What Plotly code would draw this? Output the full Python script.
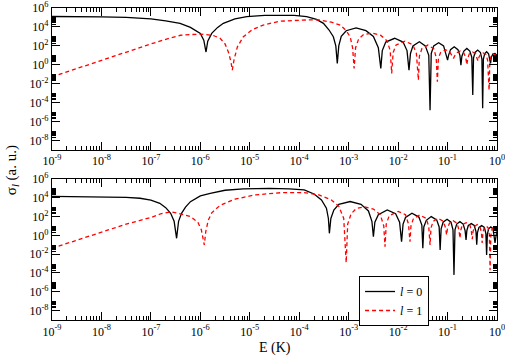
import plotly.graph_objects as go

# ---------------- data (log10 E in K, log10 sigma in a.u.) ----------------
top_l0_logE = [-9, -8.5, -8, -7.5, -7, -6.7, -6.41, -6.2, -6.0, -5.93, -5.885, -5.85, -5.77, -5.65, -5.535, -5.3, -5.06, -4.7, -4.39, -4.1, -3.85, -3.65, -3.51, -3.4, -3.31, -3.26, -3.23,
               -3.2, -3.15, -3.05, -2.85, -2.65, -2.5, -2.4, -2.35,
               -2.32, -2.25, -2.07, -1.9, -1.82, -1.78,
               -1.75, -1.7, -1.57, -1.45, -1.38, -1.354,
               -1.33, -1.28, -1.18, -1.08, -1.02, -1.0,
               -0.98, -0.94, -0.865, -0.79, -0.75, -0.73,
               -0.71, -0.67, -0.61, -0.55, -0.51, -0.49,
               -0.475, -0.445, -0.39, -0.335, -0.305, -0.29,
               -0.275, -0.25, -0.21, -0.17, -0.145, -0.13,
               -0.115, -0.08, -0.04, 0]
top_l0_logS = [5.1, 5.1, 5.07, 5.0, 4.85, 4.65, 4.38, 3.95, 3.32, 2.6, 1.35, 2.5, 3.32, 3.95, 4.38, 4.85, 5.08, 5.22, 5.26, 5.22, 5.08, 4.8, 4.38, 3.7, 2.96, 2.0, 0.15,
               2.0, 3.0, 3.6, 3.9, 3.6, 3.0, 1.8, -0.38,
               1.5, 2.4, 2.8, 2.4, 1.5, -0.56,
               1.2, 2.0, 2.43, 2.0, 1.0, -4.8,
               1.2, 2.0, 2.33, 2.0, 1.0, 0.5,
               1.0, 1.6, 1.9, 1.6, 1.0, -0.03,
               0.9, 1.45, 1.73, 1.45, 0.8, -3.2,
               0.7, 1.3, 1.55, 1.3, 0.6, -4.6,
               0.6, 1.15, 1.38, 1.15, 0.5, 0.15,
               0.8, 1.15, 1.2, 1.0]

top_l1_logE = [-9, -8.5, -8, -7.5, -7, -6.6, -6.4, -6.0, -5.75, -5.6, -5.5, -5.43, -5.38, -5.353, -5.32, -5.25, -5.13, -4.95, -4.73, -4.4, -4.05, -3.8, -3.58, -3.35, -3.17, -3.05, -2.97, -2.92, -2.89,
               -2.86, -2.8, -2.7, -2.52, -2.35, -2.22, -2.16, -2.13,
               -2.1, -2.04, -1.86, -1.7, -1.63, -1.59,
               -1.57, -1.52, -1.4, -1.28, -1.23, -1.206,
               -1.185, -1.14, -1.04, -0.95, -0.9, -0.88,
               -0.86, -0.82, -0.745, -0.67, -0.63, -0.61,
               -0.59, -0.56, -0.495, -0.43, -0.4, -0.38,
               -0.365, -0.335, -0.28, -0.225, -0.19, -0.16,
               -0.145, -0.12, -0.07, -0.02, 0]
top_l1_logS = [-1.27, -0.4, 0.5, 1.35, 2.2, 2.85, 3.12, 3.25, 3.12, 2.8, 2.2, 1.3, 0.3, -0.56, 0.5, 1.9, 2.96, 3.7, 4.2, 4.6, 4.73, 4.75, 4.73, 4.5, 4.2, 3.6, 2.96, 1.8, -0.38,
               1.8, 2.7, 3.2, 3.35, 3.1, 2.5, 1.5, -0.91,
               1.3, 2.1, 2.5, 2.1, 1.2, -1.62,
               0.9, 1.7, 2.08, 1.7, 0.8, -1.8,
               0.7, 1.3, 1.6, 1.3, 0.9, 0.68,
               0.9, 1.25, 1.45, 1.25, 0.7, 0.0,
               0.7, 1.15, 1.35, 1.15, 0.6, 0.4,
               0.8, 1.1, 1.25, 1.1, 0.5, -2.7,
               0.3, 0.95, 1.15, 0.9, 0.5]

bot_l0_logE = [-9, -8.5, -8, -7.5, -7.22, -7.0, -6.82, -6.7, -6.6, -6.53, -6.48, -6.44, -6.38, -6.3, -6.2, -6.0, -5.8, -5.5, -5.13, -4.6, -4.2, -3.9, -3.7, -3.55, -3.45, -3.41, -3.39,
               -3.36, -3.3, -3.2, -2.97, -2.75, -2.6, -2.53, -2.5,
               -2.47, -2.4, -2.22, -2.05, -1.97, -1.93,
               -1.9, -1.85, -1.72, -1.58, -1.52, -1.5,
               -1.48, -1.43, -1.33, -1.22, -1.17, -1.15,
               -1.13, -1.09, -1.01, -0.93, -0.89, -0.87,
               -0.85, -0.815, -0.75, -0.685, -0.645, -0.626,
               -0.61, -0.58, -0.52, -0.46, -0.425, -0.41,
               -0.395, -0.365, -0.31, -0.255, -0.225, -0.21,
               -0.195, -0.17, -0.125, -0.08, -0.055, -0.04,
               0]
bot_l0_logS = [4.15, 4.14, 4.12, 4.05, 3.95, 3.75, 3.41, 2.95, 2.35, 1.5, -0.31, 1.5, 2.35, 3.0, 3.59, 4.2, 4.48, 4.8, 4.94, 5.0, 4.95, 4.83, 4.4, 3.77, 2.9, 1.8, 0.22,
               1.8, 2.7, 3.3, 3.6, 3.3, 2.6, 1.5, -0.14,
               1.4, 2.2, 2.7, 2.3, 1.4, -0.67,
               1.2, 1.9, 2.35, 1.95, 1.1, -1.37,
               0.9, 1.6, 2.0, 1.65, 0.9, -1.55,
               0.7, 1.4, 1.72, 1.4, 0.6, -4.2,
               0.6, 1.2, 1.46, 1.2, 0.5, -0.49,
               0.5, 1.05, 1.25, 1.05, 0.4, -1.0,
               0.3, 0.85, 1.05, 0.85, 0.2, -2.09,
               0.1, 0.7, 0.9, 0.7, 0.0, -0.8,
               0.6]

bot_l1_logE = [-9, -8.5, -8, -7.5, -7, -6.8, -6.6, -6.45, -6.2, -6.05, -5.98, -5.92, -5.89, -5.84, -5.77, -5.6, -5.3, -4.9, -4.35, -3.9, -3.6, -3.35, -3.2, -3.1, -3.05,
               -3.02, -2.95, -2.85, -2.68, -2.5, -2.36, -2.29, -2.265,
               -2.24, -2.18, -2.0, -1.85, -1.79, -1.76,
               -1.74, -1.69, -1.56, -1.43, -1.38, -1.354,
               -1.335, -1.29, -1.19, -1.09, -1.04, -1.02,
               -1.0, -0.96, -0.885, -0.81, -0.77, -0.75,
               -0.73, -0.7, -0.625, -0.55, -0.52, -0.5,
               -0.485, -0.455, -0.4, -0.345, -0.315, -0.3,
               -0.285, -0.26, -0.22, -0.18, -0.155, -0.14,
               -0.125, -0.1, -0.06, -0.02, 0]
bot_l1_logS = [-1.37, -0.5, 0.4, 1.2, 1.9, 2.3, 2.5, 2.35, 2.0, 1.4, 0.6, -1.02, 0.4, 1.6, 2.4, 3.2, 3.85, 4.3, 4.55, 4.55, 4.3, 3.77, 3.1, 1.8, -2.9,
               1.2, 2.3, 2.85, 3.05, 2.8, 2.2, 1.0, -1.2,
               1.2, 2.1, 2.55, 2.2, 1.2, -0.67,
               1.0, 1.8, 2.17, 1.8, 0.9, -1.02,
               0.8, 1.5, 1.82, 1.5, 0.8, 0.04,
               0.8, 1.3, 1.55, 1.3, 0.6, -0.3,
               0.6, 1.15, 1.35, 1.15, 0.5, -0.4,
               0.4, 0.95, 1.15, 0.95, 0.3, -0.8,
               0.3, 0.8, 1.0, 0.8, 0.1, -3.7,
               0.0, 0.7, 0.85, 0.6, 0.2]

x_tick_exps = [-9, -8, -7, -6, -5, -4, -3, -2, -1, 0]
y_tick_exps = [-8, -6, -4, -2, 0, 2, 4, 6]
legend_names = ["<i>l</i> = 0", "<i>l</i> = 1"]

# ---------------- figure ----------------
FONT = "Liberation Serif, Times New Roman, serif"
BLACK = "#000000"
RED = "#ff0000"

def lin(v):
    return [10 ** a for a in v]

fig = go.Figure()
series = [
    (top_l0_logE, top_l0_logS, "x", "y", BLACK, "solid", legend_names[0], False),
    (top_l1_logE, top_l1_logS, "x", "y", RED, "4px,3px", legend_names[1], False),
    (bot_l0_logE, bot_l0_logS, "x2", "y2", BLACK, "solid", legend_names[0], True),
    (bot_l1_logE, bot_l1_logS, "x2", "y2", RED, "4px,3px", legend_names[1], True),
]
for xe, ys, xa, ya, col, dash, name, show in series:
    fig.add_trace(go.Scatter(x=lin(xe), y=lin(ys), xaxis=xa, yaxis=ya, mode="lines",
                             line=dict(color=col, width=1.3, dash=dash),
                             name=name, showlegend=show, hoverinfo="skip"))

x_tickvals = [10.0 ** e for e in x_tick_exps]
x_ticktext = ["10<sup>%d</sup>" % e for e in x_tick_exps]
x_minor = [k * 10.0 ** e for e in x_tick_exps[:-1] for k in range(2, 10)]
y_tickvals = [10.0 ** e for e in y_tick_exps]
y_ticktext = ["10<sup>%d</sup>" % e for e in y_tick_exps]
y_minor = [k * 10.0 ** e for e in y_tick_exps[:-1] for k in range(2, 10)]

common = dict(type="log", showline=True, linecolor=BLACK, linewidth=1.2, mirror="allticks",
              ticks="inside", ticklen=8, tickwidth=1, tickcolor=BLACK, showgrid=False, zeroline=False,
              tickfont=dict(family=FONT, size=12, color=BLACK), tickmode="array", automargin=False,
              ticklabeloverflow="allow")
xax = dict(common, range=[-9, 0], tickvals=x_tickvals, ticktext=x_ticktext,
           minor=dict(tickvals=x_minor, ticks="inside", ticklen=4, tickcolor=BLACK, tickwidth=1, showgrid=False))
yax = dict(common, range=[-9, 6], tickvals=y_tickvals, ticktext=y_ticktext,
           minor=dict(tickvals=y_minor, ticks="inside", ticklen=4, tickcolor=BLACK, tickwidth=1, showgrid=False))

fig.update_layout(
    width=505, height=358,
    margin=dict(l=52, r=8, t=8, b=38, autoexpand=False),
    paper_bgcolor="white", plot_bgcolor="white",
    font=dict(family=FONT, size=12, color=BLACK),
    xaxis=dict(xax, domain=[0, 1], anchor="y"),
    yaxis=dict(yax, domain=[0.545, 1.0], anchor="x"),
    xaxis2=dict(xax, domain=[0, 1], anchor="y2"),
    yaxis2=dict(yax, domain=[0.0, 0.452], anchor="x2"),
    showlegend=True,
    hovermode=False,
    legend=dict(x=0.69, y=0.141, xanchor="left", yanchor="top", bgcolor="white",
                bordercolor=BLACK, borderwidth=1, font=dict(family=FONT, size=12, color=BLACK),
                itemwidth=30, tracegroupgap=0),
    annotations=[
        dict(text="σ<sub><i>l</i></sub> (a. u.)", xref="paper", yref="paper", x=-0.09, y=0.48,
             textangle=-90, showarrow=False, font=dict(family=FONT, size=15, color=BLACK),
             xanchor="center", yanchor="middle"),
        dict(text="E (K)", xref="paper", yref="paper", x=0.5, y=-0.09, showarrow=False,
             font=dict(family=FONT, size=14, color=BLACK), xanchor="center", yanchor="middle"),
    ],
)

fig.write_html("out.html", config={"displayModeBar": False},
               post_script="document.body.style.margin='0px';document.body.style.padding='0px';")
